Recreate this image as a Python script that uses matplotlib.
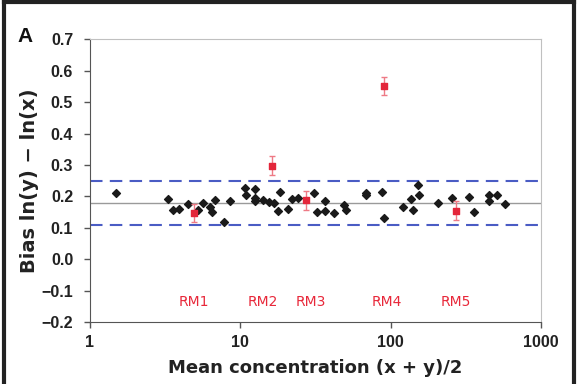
import matplotlib.pyplot as plt
from matplotlib.lines import Line2D

# routine samples (black diamonds)
conc = [1.50, 3.32, 3.56, 3.91, 4.47, 5.23, 5.67, 6.28, 6.45, 6.75, 7.78, 8.58,
        10.8, 10.9, 12.6, 12.5, 12.6, 14.1, 15.4, 16.8, 17.8, 18.4, 20.7, 22.0,
        24.3, 31.1, 32.2, 36.6, 36.6, 42.2, 49.2, 50.5, 68.2, 68.6, 88.1, 90.3,
        120, 137, 141, 152, 153, 206, 257, 329, 360, 453, 453, 510, 574]
bias = [0.210, 0.193, 0.156, 0.159, 0.176, 0.157, 0.178, 0.167, 0.151, 0.190, 0.119, 0.184,
        0.227, 0.206, 0.223, 0.196, 0.185, 0.190, 0.182, 0.179, 0.154, 0.214, 0.160, 0.193,
        0.196, 0.210, 0.150, 0.184, 0.152, 0.148, 0.172, 0.157, 0.210, 0.206, 0.214, 0.130,
        0.165, 0.193, 0.157, 0.235, 0.205, 0.179, 0.195, 0.198, 0.151, 0.205, 0.184, 0.203, 0.176]

# reference materials (red squares)
rm_names = ["RM1", "RM2", "RM3", "RM4", "RM5"]
rm_conc = [4.94, 16.2, 27.2, 90.3, 271]
rm_bias = [0.147, 0.297, 0.187, 0.551, 0.154]
rm_err = [0.03, 0.03, 0.03, 0.03, 0.03]
rm_label_x = [4.92, 14.1, 29.2, 94, 271]

mean_bias = 0.18
limits = [0.25, 0.11]

fig = plt.figure(figsize=(5.8, 3.84), dpi=100)
ax = fig.add_axes([0.155, 0.161, 0.778, 0.737])

ax.axhline(mean_bias, color="#9a9a9a", lw=1.0, zorder=1)
for lim in limits:
    ax.axhline(lim, color="#4a5cc4", lw=1.5, ls=(0, (6, 3.5)), zorder=1)

ax.scatter(conc, bias, marker="D", s=16, color="#1a1a1a", zorder=3)
ax.errorbar(rm_conc, rm_bias, yerr=rm_err, fmt="none", ecolor="#ee7a85",
            elinewidth=1.0, capsize=2.5, capthick=1.0, zorder=4)
ax.scatter(rm_conc, rm_bias, marker="s", s=24, color="#e3263a", zorder=5)

for name, xl in zip(rm_names, rm_label_x):
    ax.text(xl, -0.137, name, color="#e8283a", fontsize=10, ha="center", va="center",
            family="DejaVu Sans")

ax.set_xscale("log")
ax.set_xlim(1, 1000)
ax.set_ylim(-0.2, 0.7)
ax.set_xticks([1, 10, 100, 1000])
ax.set_xticklabels(["1", "10", "100", "1000"])
ax.minorticks_off()
ax.set_yticks([-0.2, -0.1, 0.0, 0.1, 0.2, 0.3, 0.4, 0.5, 0.6, 0.7])
ax.set_yticklabels(["\u22120.2", "\u22120.1", "0.0", "0.1", "0.2", "0.3", "0.4", "0.5", "0.6", "0.7"])

for lab in ax.get_xticklabels() + ax.get_yticklabels():
    lab.set_fontfamily("Liberation Sans")
    lab.set_fontweight("bold")
    lab.set_fontsize(11.5)
    lab.set_color("#222222")

ax.tick_params(axis="both", direction="out", length=4, width=1, color="#555555")
ax.tick_params(axis="y", pad=8)
ax.tick_params(axis="x", pad=5)

ax.spines["left"].set_color("#555555")
ax.spines["bottom"].set_color("#555555")
ax.spines["top"].set_color("#c0c0c0")
ax.spines["right"].set_color("#c0c0c0")

ax.set_xlabel("Mean concentration (x + y)/2", fontsize=13, fontweight="bold",
              family="DejaVu Sans", color="#222222", labelpad=7)
ax.set_ylabel("Bias ln(y) \u2212 ln(x)", fontsize=14, fontweight="bold",
              family="DejaVu Sans", color="#222222", labelpad=2)

fig.text(0.03, 0.89, "A", fontsize=15, fontweight="bold", family="Liberation Sans",
         color="#111111")

# panel frame: left, top and right edges only
frame = dict(color="#222222", lw=3, transform=fig.transFigure, solid_capstyle="projecting")
fig.lines.append(Line2D([0.0065, 0.0065], [0.0, 0.9935], **frame))
fig.lines.append(Line2D([0.0065, 0.9895], [0.9935, 0.9935], **frame))
fig.lines.append(Line2D([0.9895, 0.9895], [0.0, 0.9935], **frame))

plt.savefig("out.png", dpi=100)
